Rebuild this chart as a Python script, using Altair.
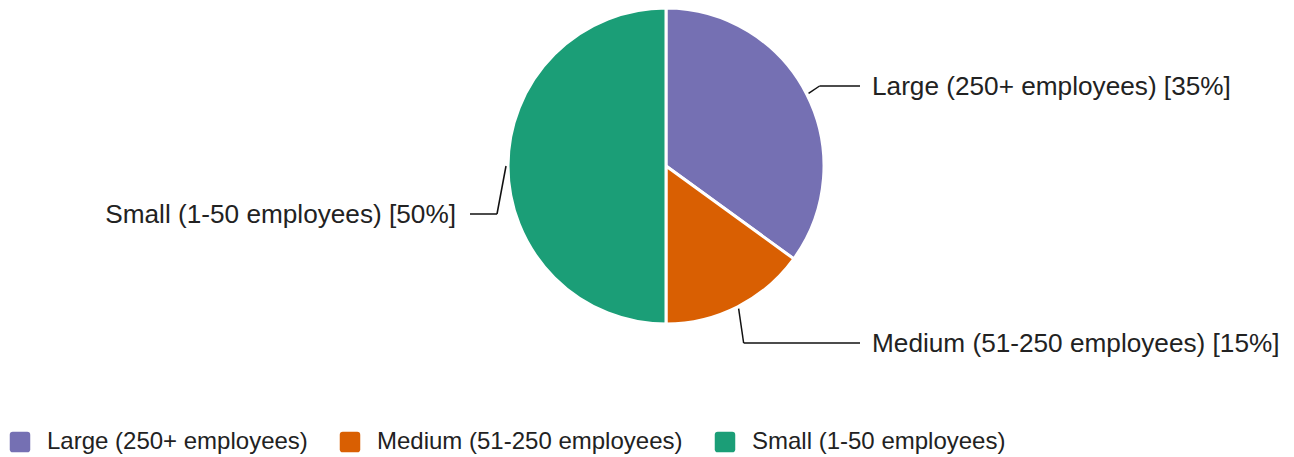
import altair as alt
import numpy as np
import pandas as pd

# ---- data ----
categories = ["Large (250+ employees)", "Medium (51-250 employees)", "Small (1-50 employees)"]
shares = [35, 15, 50]
colors = ["#7570b3", "#d95f02", "#1b9e77"]

# ---- layout (pixels) ----
W, H = 1294, 457
CX, CY, R = 666, 166, 158
label_y = [86, 343, 214]          # y of the horizontal leader segment
elbow_dx = [11, 5, -9]            # horizontal shift of the elbow from the slice edge point
line_end_right, line_end_left = 860, 470
text_right, text_left = 872, 456
LABEL_FS = 26.2
LEGEND_FS = 24
FONT = "Liberation Sans"
TEXT_COLOR = "#222222"

total = sum(shares)
frac = np.array(shares) / total
start = np.concatenate([[0], np.cumsum(frac)[:-1]])
mid = (start + frac / 2) * 2 * np.pi

rows = []
for i, c in enumerate(categories):
    sx = CX + (R + 2) * np.sin(mid[i])
    sy = CY - (R + 2) * np.cos(mid[i])
    ex = sx + elbow_dx[i]
    ey = label_y[i]
    right = np.sin(mid[i]) > 0
    rows.append(dict(
        category=c, order=i, value=shares[i],
        sx=sx, sy=sy, ex=ex, ey=ey,
        lx=line_end_right if right else line_end_left,
        tx=text_right if right else text_left,
        align="left" if right else "right",
        label=f"{c} [{shares[i]}%]",
    ))
df = pd.DataFrame(rows)

xs = alt.Scale(domain=[0, W], range=[0, W])
ys = alt.Scale(domain=[0, H], range=[0, H])

rounded_square = ("M-0.7,-1 L0.7,-1 Q1,-1 1,-0.7 L1,0.7 Q1,1 0.7,1 L-0.7,1 "
                  "Q-1,1 -1,0.7 L-1,-0.7 Q-1,-1 -0.7,-1 Z")

pie = alt.Chart(df).mark_arc(radius=R, stroke="white", strokeWidth=3).encode(
    theta=alt.Theta("value:Q", stack=True),
    order=alt.Order("order:Q"),
    color=alt.Color(
        "category:N",
        scale=alt.Scale(domain=categories, range=colors),
        sort=categories,
        legend=alt.Legend(
            title=None, orient="none", direction="horizontal",
            legendX=8, legendY=430,
            symbolType=rounded_square, symbolSize=420, symbolStrokeWidth=0,
            symbolOpacity=1,
            labelFont=FONT, labelFontSize=LEGEND_FS, labelColor=TEXT_COLOR,
            labelOffset=15, columnPadding=30, labelLimit=500,
        ),
    ),
    x=alt.value(CX),
    y=alt.value(CY),
)

seg1 = alt.Chart(df).mark_rule(color="#111111", strokeWidth=1.5).encode(
    x=alt.X("sx:Q", scale=xs, axis=None),
    y=alt.Y("sy:Q", scale=ys, axis=None),
    x2="ex:Q", y2="ey:Q",
)
seg2 = alt.Chart(df).mark_rule(color="#111111", strokeWidth=1.5).encode(
    x=alt.X("ex:Q", scale=xs, axis=None),
    y=alt.Y("ey:Q", scale=ys, axis=None),
    x2="lx:Q", y2="ey:Q",
)

text_r = alt.Chart(df[df["align"] == "left"]).mark_text(
    align="left", baseline="middle", font=FONT, fontSize=LABEL_FS, color=TEXT_COLOR, dy=1
).encode(
    x=alt.X("tx:Q", scale=xs, axis=None),
    y=alt.Y("ey:Q", scale=ys, axis=None),
    text="label:N",
)
text_l = alt.Chart(df[df["align"] == "right"]).mark_text(
    align="right", baseline="middle", font=FONT, fontSize=LABEL_FS, color=TEXT_COLOR, dy=1
).encode(
    x=alt.X("tx:Q", scale=xs, axis=None),
    y=alt.Y("ey:Q", scale=ys, axis=None),
    text="label:N",
)

chart = alt.layer(pie, seg1, seg2, text_r, text_l).properties(
    width=W, height=H,
    autosize=alt.AutoSizeParams(type="none"),
    padding=0,
    background="white",
).configure_view(stroke=None)

chart.save("out.html", embed_options={"renderer": "svg", "actions": False})
